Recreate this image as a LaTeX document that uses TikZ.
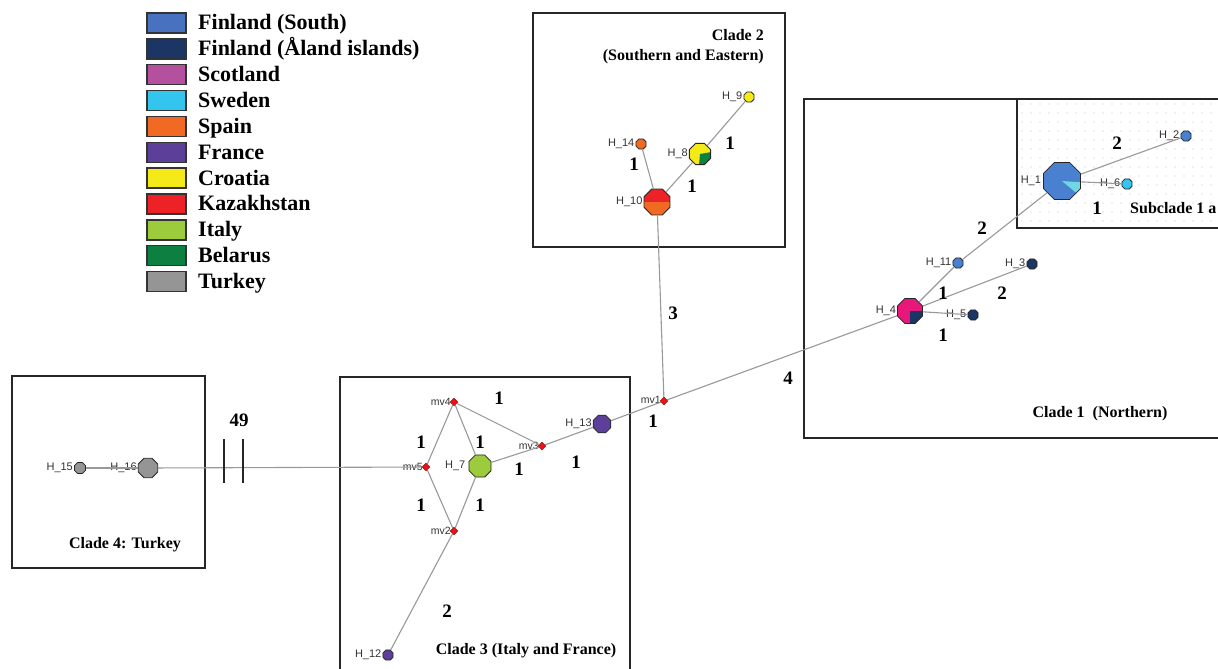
\documentclass[tikz,border=0pt]{standalone}
\usepackage{fontspec}
\setmainfont{Liberation Serif}
\newfontfamily\hfont{Liberation Sans}
\usetikzlibrary{shapes.geometric}
\definecolor{finS}{RGB}{72,114,192}
\definecolor{finA}{RGB}{27,53,100}
\definecolor{sco}{RGB}{181,80,158}
\definecolor{swe}{RGB}{51,197,238}
\definecolor{spa}{RGB}{240,106,36}
\definecolor{fra}{RGB}{92,63,153}
\definecolor{cro}{RGB}{245,234,23}
\definecolor{kaz}{RGB}{236,34,39}
\definecolor{ita}{RGB}{156,203,60}
\definecolor{bel}{RGB}{11,128,64}
\definecolor{tur}{RGB}{149,149,149}
\definecolor{mag}{RGB}{232,23,122}
\definecolor{hblue}{RGB}{74,128,208}
\definecolor{hcyan}{RGB}{110,215,225}
\definecolor{mvred}{RGB}{235,20,20}
\begin{document}
\begin{tikzpicture}[x=1pt,y=-1pt,
 box/.style={draw=black!85,line width=1.4pt},
 edge/.style={draw=black!40,line width=1.1pt},
 hap/.style={regular polygon,regular polygon sides=8,draw=black!85,line width=0.8pt,inner sep=0pt,minimum size=#1},
 mv/.style={diamond,fill=mvred,draw=black!50!red,line width=0.4pt,inner sep=0pt,minimum size=8pt},
 hl/.style={font=\hfont\fontsize{11}{11}\selectfont,text=black!80,inner sep=1pt},
 ml/.style={font=\hfont\fontsize{10.5}{11}\selectfont,text=black!80,inner sep=1pt},
 num/.style={font=\fontsize{19}{20}\selectfont\bfseries,inner sep=0pt},
 clab/.style={font=\fontsize{16}{18}\selectfont\bfseries,inner sep=0pt},
 leg/.style={font=\fontsize{22}{23}\selectfont\bfseries,inner sep=0pt,anchor=base west},
 legbox/.style={draw=black!80,line width=1.4pt},
 tick/.style={draw=black!85,line width=1.8pt}
]
\useasboundingbox (0,0) rectangle (1218,669);
\fill[white] (0,0) rectangle (1218,669);

% legend
\foreach \c/\t [count=\i] in {finS/Finland (South),finA/Finland (Åland islands),sco/Scotland,swe/Sweden,spa/Spain,fra/France,cro/Croatia,kaz/Kazakhstan,ita/Italy,bel/Belarus,tur/Turkey}{
  \pgfmathsetmacro{\yy}{23+(\i-1)*25.85}
  \node[legbox,fill=\c,minimum width=39pt,minimum height=20pt,inner sep=0pt] (lb\i) at (166.5,\yy) {};
  \node[leg] (lt\i) at (198,\yy+7) {\t};
}

% subclade dotted background
\foreach \xx in {1022,1031,...,1216}{
  \foreach \yy in {104,113,...,224}{
    \fill[gray!45] (\xx,\yy) circle (0.7);
  }
}

% boxes
\draw[box] (533,13) rectangle (785,247);
\draw[box] (804,99) rectangle (1225,438);
\draw[box] (1017,99) rectangle (1225,228);
\draw[box] (340,377) rectangle (630,680);
\draw[box] (12,376) rectangle (205,568);

% haplotype nodes
\node[hap=11,fill=cro,label={[hl]left:H\_9}] (h9) at (749,97) {};
\node[hap=11,fill=spa,label={[hl]left:H\_14}] (h14) at (641,144) {};
\node[hap=23,fill=cro,label={[hl]left:H\_8},
  path picture={\fill[bel] (path picture bounding box.center) -- +(-10:30) -- +(40:40) -- +(95:30) -- cycle;}] (h8) at (700,154) {};
\node[hap=28,fill=spa,label={[hl]left:H\_10},
  path picture={\fill[kaz] (path picture bounding box.west) rectangle (path picture bounding box.north east);}] (h10) at (657,202) {};
\node[mv,label={[ml,xshift=2pt,yshift=1pt]left:mv1}] (mv1) at (664,401) {};
\node[hap=19,fill=fra,label={[hl]left:H\_13}] (h13) at (602,424) {};
\node[mv,label={[ml,xshift=2pt]left:mv3}] (mv3) at (542,446) {};
\node[mv,label={[ml,xshift=2pt]left:mv4}] (mv4) at (454,402) {};
\node[mv,label={[ml,xshift=2pt]left:mv5}] (mv5) at (426,467) {};
\node[hap=24,fill=ita,label={[hl,xshift=-2pt]left:H\_7}] (h7) at (480,466) {};
\node[mv,label={[ml,xshift=2pt]left:mv2}] (mv2) at (454,531) {};
\node[hap=11,fill=fra,label={[hl]left:H\_12}] (h12) at (388,655) {};
\node[hap=21,fill=tur,label={[hl]left:H\_16}] (h16) at (148,468) {};
\node[hap=12,fill=tur,label={[hl]left:H\_15}] (h15) at (80,468) {};
\node[hap=27,fill=mag,label={[hl]left:H\_4},
  path picture={\fill[finA] (path picture bounding box.center) -- +(0:30) -- +(45:40) -- +(90:30) -- cycle;}] (h4) at (910,311) {};
\node[hap=11,fill=hblue,label={[hl]left:H\_11}] (h11) at (958,263) {};
\node[hap=11,fill=finA,label={[hl]left:H\_3}] (h3) at (1032,264) {};
\node[hap=11,fill=finA,label={[hl]left:H\_5}] (h5) at (973,315) {};
\node[hap=40,fill=hblue,label={[hl,xshift=-1pt]left:H\_1},
  path picture={\fill[hcyan] (path picture bounding box.center) -- +(4:40) -- +(22:50) -- +(40:40) -- cycle;}] (h1) at (1062,181) {};
\node[hap=11,fill=swe,label={[hl]left:H\_6}] (h6) at (1127,184) {};
\node[hap=11,fill=hblue,label={[hl]left:H\_2}] (h2) at (1186,136) {};

% edges
\draw[edge] (h9) -- (h8);
\draw[edge] (h8) -- (h10);
\draw[edge] (h14) -- (h10);
\draw[edge] (h10) -- (mv1);
\draw[edge] (mv1) -- (h13);
\draw[edge] (mv1) -- (h4);
\draw[edge] (h13) -- (mv3);
\draw[edge] (mv3) -- (h7);
\draw[edge] (mv3) -- (mv4);
\draw[edge] (mv4) -- (h7);
\draw[edge] (mv4) -- (mv5);
\draw[edge] (mv5) -- (mv2);
\draw[edge] (h7) -- (mv2);
\draw[edge] (mv2) -- (h12);
\draw[edge] (mv5) -- (h16);
\draw[edge] (h16) -- (h15);
\draw[edge] (h4) -- (h11);
\draw[edge] (h11) -- (h1);
\draw[edge] (h4) -- (h3);
\draw[edge] (h4) -- (h5);
\draw[edge] (h1) -- (h6);
\draw[edge] (h1) -- (h2);

% break ticks
\coordinate (k1a) at (224,439); \coordinate (k1b) at (224,483);
\coordinate (k2a) at (243,439); \coordinate (k2b) at (243,483);
\draw[tick] (k1a) -- (k1b);
\draw[tick] (k2a) -- (k2b);

% edge numbers
\node[num] (n1) at (730,143) {1};
\node[num] (n2) at (692,186) {1};
\node[num] (n3) at (634,164) {1};
\node[num] (n4) at (673,313) {3};
\node[num] (n5) at (653,421) {1};
\node[num] (n6) at (788,378) {4};
\node[num] (n7) at (576,462) {1};
\node[num] (n8) at (499,398) {1};
\node[num] (n9) at (421,442) {1};
\node[num] (n10) at (480,442) {1};
\node[num] (n11) at (519,469) {1};
\node[num] (n12) at (421,505) {1};
\node[num] (n13) at (480,505) {1};
\node[num] (n14) at (447,611) {2};
\node[num] (n15) at (239,420) {49};
\node[num] (n16) at (982,228) {2};
\node[num] (n17) at (943,293) {1};
\node[num] (n18) at (1002,293) {2};
\node[num] (n19) at (943,335) {1};
\node[num] (n20) at (1117,143) {2};
\node[num] (n21) at (1097,208) {1};

% clade labels
\node[clab,anchor=base east] (c2a) at (764,41) {Clade 2};
\node[clab,anchor=base east] (c2b) at (764,60) {(Southern and Eastern)};
\node[clab] (c1) at (1100,414) {Clade 1~~(Northern)};
\node[clab,anchor=west] (c1a) at (1130,208) {Subclade 1 a};
\node[clab] (c3) at (526,651) {Clade 3 (Italy and France)};
\node[clab] (c4) at (125,545) {Clade 4: Turkey};
\end{tikzpicture}
\end{document}
